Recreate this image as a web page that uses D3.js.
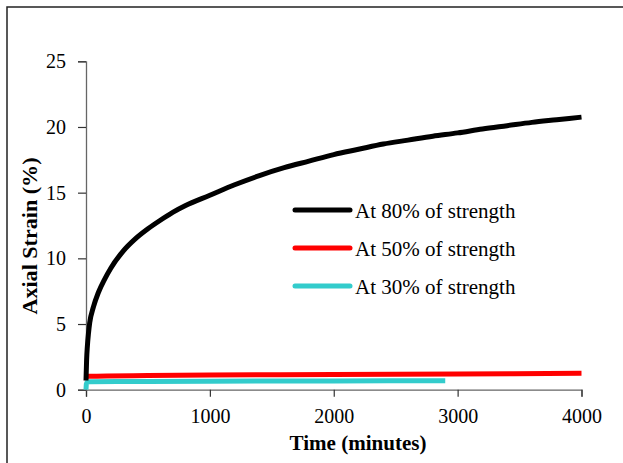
<!DOCTYPE html>
<html><head><meta charset="utf-8">
<script src="https://cdn.jsdelivr.net/npm/d3@7/dist/d3.min.js"></script>
<style>body{margin:0;background:#fff}svg{display:block}svg text{font-family:"Liberation Serif","Times New Roman","DejaVu Serif",serif !important}</style>
</head><body>
<script>
const xTicks = [0, 1000, 2000, 3000, 4000];
const yTicks = [0, 5, 10, 15, 20, 25];
const seriesNames = ["At 80% of strength", "At 50% of strength", "At 30% of strength"];
const seriesColors = ["#000000", "#ff0000", "#33cccc"];
const t80 = [0, 5, 11, 20, 30, 60, 100, 150, 200, 300, 400, 500, 600, 700, 800, 1000, 1200, 1400, 1600, 1800, 2000, 2200, 2400, 2600, 2800, 3000, 3200, 3400, 3600, 3800, 4000];
const v80 = [0.7, 2.3, 3.3, 4.3, 5.1, 6.3, 7.4, 8.4, 9.25, 10.55, 11.5, 12.25, 12.9, 13.5, 14.0, 14.8, 15.6, 16.3, 16.9, 17.4, 17.9, 18.3, 18.7, 19.0, 19.3, 19.55, 19.85, 20.1, 20.35, 20.55, 20.75];
const t50 = [0, 20, 500, 1000, 2000, 3000, 4000];
const v50 = [0.95, 1.03, 1.08, 1.11, 1.16, 1.2, 1.25];
const t30 = [0, 3, 10, 30, 500, 1000, 2000, 2900];
const v30 = [0.0, 0.45, 0.58, 0.6, 0.63, 0.65, 0.67, 0.68];

const W = 623, H = 463;
const svg = d3.select("body").append("svg").attr("width", W).attr("height", H);
svg.append("rect").attr("x", 7).attr("y", 7).attr("width", 630).attr("height", 470)
  .attr("fill", "none").attr("stroke", "#222").attr("stroke-width", 1.5);

const x = d3.scaleLinear().domain([0, 4000]).range([86, 581.5]);
const y = d3.scaleLinear().domain([0, 25]).range([389.7, 61.3]);

const series = [
  {t: t80, v: v80}, {t: t50, v: v50}, {t: t30, v: v30}
];

const line = d3.line().x(d => x(d[0])).y(d => y(d[1])).curve(d3.curveMonotoneX);

// axes
const xa = svg.append("g").attr("transform", `translate(0,${y(0)})`)
  .call(d3.axisBottom(x).tickValues(xTicks).tickSize(7).tickPadding(12).tickFormat(d3.format("d")));
const ya = svg.append("g").attr("transform", `translate(${x(0)},0)`)
  .call(d3.axisLeft(y).tickValues(yTicks).tickSize(8).tickPadding(12).tickFormat(d3.format("d")));
[xa, ya].forEach(a => {
  a.attr("font-family", null);
  a.select(".domain").attr("stroke", "#666").attr("stroke-width", 1.3);
  a.selectAll(".tick line").attr("stroke", "#333").attr("stroke-width", 1.2);
  a.selectAll(".tick text").attr("font-size", 20).attr("fill", "#000");
});

// series lines (draw in reverse so black on top)
[2, 1, 0].forEach(i => {
  const s = series[i];
  svg.append("path").datum(s.t.map((t, j) => [t, s.v[j]]))
    .attr("d", line).attr("fill", "none").attr("stroke", seriesColors[i])
    .attr("stroke-width", 5).attr("stroke-linejoin", "round").attr("stroke-linecap", "butt");
});

// titles
svg.append("text").attr("x", 358).attr("y", 450).attr("text-anchor", "middle")
  .attr("font-weight", "bold").attr("font-size", 21)
  .attr("textLength", 137).attr("lengthAdjust", "spacingAndGlyphs").text("Time (minutes)");
svg.append("text").attr("transform", "translate(37,236) rotate(-90)").attr("text-anchor", "middle")
  .attr("font-weight", "bold").attr("font-size", 21)
  .attr("textLength", 157).attr("lengthAdjust", "spacingAndGlyphs").text("Axial Strain (%)");

// legend
const leg = svg.append("g");
const legY = [210, 248, 286];
seriesNames.forEach((n, i) => {
  leg.append("line").attr("x1", 295).attr("x2", 350).attr("y1", legY[i]).attr("y2", legY[i])
    .attr("stroke", seriesColors[i]).attr("stroke-width", 5).attr("stroke-linecap", "round");
  leg.append("text").attr("x", 355).attr("y", legY[i] + 8)
    .attr("font-size", 21).text(n);
});
</script>
</body></html>
